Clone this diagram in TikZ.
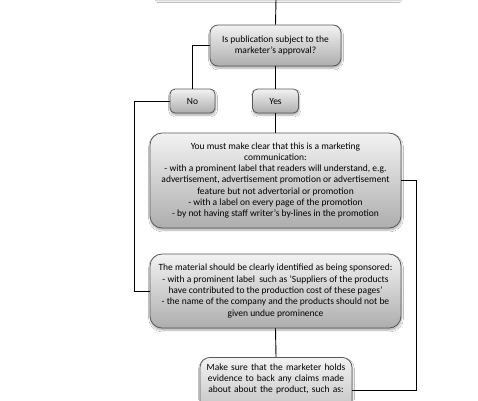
\documentclass[tikz,border=0pt]{standalone}
\usepackage{fontspec}
\setmainfont{Carlito}
\usetikzlibrary{shadows,shadows.blur}
\begin{document}
\begin{tikzpicture}[x=1pt,y=-1pt,
  box/.style={draw=black!65, line width=0.8pt, rounded corners=8pt,
    top color=black!5, bottom color=black!32, align=center, inner sep=2pt,
    font=\fontsize{9.5}{11.3}\selectfont,
    blur shadow={shadow blur steps=6, shadow xshift=0.5pt, shadow yshift=-2pt, shadow opacity=35}},
  conn/.style={draw=black, line width=0.9pt}]
\useasboundingbox (0,0) rectangle (478,400);
\clip (0,0) rectangle (478,400);
\fill[white] (0,0) rectangle (478,400);
\node[draw=black!15, fill=white, minimum width=242pt, minimum height=30pt,
  blur shadow={shadow blur steps=6, shadow yshift=-1.5pt, shadow opacity=25}] (topbox) at (276,-16) {};
\node[box, minimum width=131pt, minimum height=41pt] (question) at (275.5,45.5)
  {Is publication subject to the\\marketer's approval?};
\node[box, rounded corners=5pt, minimum width=45pt, minimum height=24pt] (no) at (192.5,101) {No};
\node[box, rounded corners=5pt, minimum width=46pt, minimum height=24pt] (yes) at (275.5,101) {Yes};
\node[box, rounded corners=12pt, minimum width=251pt, minimum height=95pt] (marketing) at (275.5,180.5)
  {You must make clear that this is a marketing\\communication:\\
   - with a prominent label that readers will understand, e.g.\\
   advertisement, advertisement promotion or advertisement\\
   feature but not advertorial or promotion\\
   - with a label on every page of the promotion\\
   - by not having staff writer's by-lines in the promotion};
\node[box, rounded corners=12pt, minimum width=251pt, minimum height=74pt] (sponsored) at (275.5,291)
  {The material should be clearly identified as being sponsored:\\
   - with a prominent label\ \ such as 'Suppliers of the products\\
   have contributed to the production cost of these pages'\\
   - the name of the company and the products should not be\\
   given undue prominence};
\node[box, rounded corners=10pt, anchor=north, text width=148pt, inner ysep=6pt, text depth=60pt] (evidence) at (276,357)
  {Make sure that the marketer holds\\evidence to back any claims made\\about about the product, such as:};
\draw[conn] (topbox.south) -- (question.north);
\draw[conn] (question.west) -| (no.north);
\draw[conn] (question.south) -- (yes.north);
\draw[conn] (yes.south) -- (marketing.north);
\draw[conn] (no.west) -- ++(-35,0) |- (sponsored.west);
\draw[conn] (sponsored.south) -- (evidence.north);
\coordinate (evright) at ([yshift=-33pt]evidence.north east);
\draw[conn] (marketing.east) -- ++(15,0) |- (evright);
\end{tikzpicture}
\end{document}
